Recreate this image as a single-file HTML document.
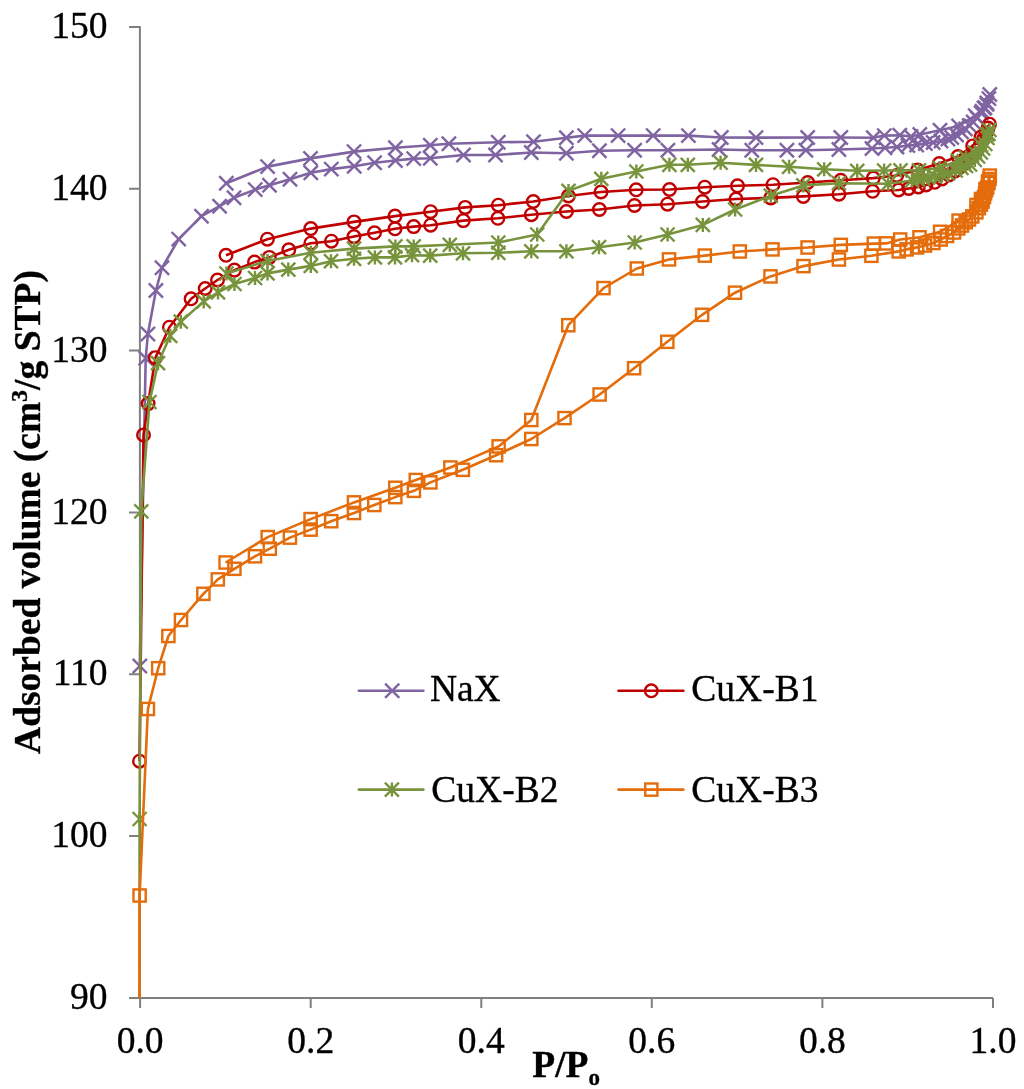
<!DOCTYPE html>
<html><head><meta charset="utf-8"><style>
html,body{margin:0;padding:0;background:#fff;}
svg{display:block;will-change:transform;}
text{font-family:"Liberation Serif",serif;fill:#000;stroke:#000;stroke-width:0.35px;}
</style></head><body>
<svg width="1024" height="1089" viewBox="0 0 1024 1089">
<defs><clipPath id="pa"><rect x="0" y="0" width="1024" height="997.9"/></clipPath></defs>
<rect width="1024" height="1089" fill="#fff"/>

<path d="M139.9,25.9L139.9,997.9M129.0,997.9L993.0,997.9M129,26.9L139.9,26.9M129,188.7L139.9,188.7M129,350.6L139.9,350.6M129,512.4L139.9,512.4M129,674.2L139.9,674.2M129,836.1L139.9,836.1M129,997.9L139.9,997.9M140.1,997.9L140.1,1008M310.7,997.9L310.7,1008M481.3,997.9L481.3,1008M651.8,997.9L651.8,1008M822.4,997.9L822.4,1008M993.0,997.9L993.0,1008" stroke="#808080" stroke-width="2" fill="none"/>
<text x="107.5" y="38.1" font-size="37.5" text-anchor="end">150</text>
<text x="107.5" y="199.9" font-size="37.5" text-anchor="end">140</text>
<text x="107.5" y="361.8" font-size="37.5" text-anchor="end">130</text>
<text x="107.5" y="523.6" font-size="37.5" text-anchor="end">120</text>
<text x="107.5" y="685.4" font-size="37.5" text-anchor="end">110</text>
<text x="107.5" y="847.3" font-size="37.5" text-anchor="end">100</text>
<text x="107.5" y="1009.1" font-size="37.5" text-anchor="end">90</text>
<text x="140.1" y="1053" font-size="37.5" text-anchor="middle">0.0</text>
<text x="310.7" y="1053" font-size="37.5" text-anchor="middle">0.2</text>
<text x="481.3" y="1053" font-size="37.5" text-anchor="middle">0.4</text>
<text x="651.8" y="1053" font-size="37.5" text-anchor="middle">0.6</text>
<text x="822.4" y="1053" font-size="37.5" text-anchor="middle">0.8</text>
<text x="993.0" y="1053" font-size="37.5" text-anchor="middle">1.0</text>
<text x="600" y="1077" font-size="37.5" font-weight="bold" text-anchor="end">P/P<tspan font-size="23" dy="8">o</tspan></text>
<text transform="translate(40,512) rotate(-90)" font-size="37.5" font-weight="bold" text-anchor="middle">Adsorbed volume (cm<tspan font-size="24" dy="-13">3</tspan><tspan dy="13">/g STP)</tspan></text>
<path d="M139.8,666.0L145.7,358.3L147.9,334.0L155.9,290.5L162.0,267.8L178.7,239.1L201.5,216.2L219.6,206.2L234.0,197.8L255.2,189.6L269.5,185.2L290.0,179.3L310.8,172.7L331.3,169.1L354.2,166.2L374.6,162.7L395.4,160.5L413.7,158.6L430.3,158.3L463.5,155.0L495.5,155.0L531.3,152.5L566.4,153.2L599.4,150.7L634.6,150.3L667.9,150.3L719.1,149.5L751.8,150.3L786.9,150.3L805.9,150.3L838.9,149.5L872.0,148.5L885.0,147.8L897.0,147.0L907.8,145.6L916.6,145.0L925.4,143.5L933.2,142.5L941.0,141.0L947.9,139.0L951.8,137.5L956.6,135.0L961.5,132.0L965.4,129.0L969.3,125.5L973.2,122.0L977.1,118.0L981.1,113.0L984.0,108.0L986.9,103.0L988.9,98.6L989.8,94.5L987.0,104.4L985.0,107.8L982.0,111.2L975.2,115.6L958.6,125.9L940.0,130.3L919.8,134.5L911.0,136.5L899.8,135.3L884.3,135.6L873.3,137.8L840.8,137.5L807.7,137.5L756.0,137.6L721.3,137.5L688.4,135.6L653.2,135.6L618.1,135.6L584.7,135.6L566.4,137.8L533.5,141.8L498.3,142.2L448.9,143.7L430.3,145.2L395.4,147.8L354.0,151.6L310.5,158.4L267.6,166.6L226.3,183.2" stroke="#8064A2" stroke-width="2.60" fill="none" stroke-linejoin="round" clip-path="url(#pa)"/>
<g stroke="#8064A2" stroke-width="2.40" fill="none"><path d="M132.7,658.9L146.9,673.1M132.7,673.1L146.9,658.9"/><path d="M138.6,351.2L152.8,365.4M138.6,365.4L152.8,351.2"/><path d="M140.8,326.9L155.0,341.1M140.8,341.1L155.0,326.9"/><path d="M148.8,283.4L163.0,297.6M148.8,297.6L163.0,283.4"/><path d="M154.9,260.7L169.1,274.9M154.9,274.9L169.1,260.7"/><path d="M171.6,232.0L185.8,246.2M171.6,246.2L185.8,232.0"/><path d="M194.4,209.1L208.6,223.3M194.4,223.3L208.6,209.1"/><path d="M212.5,199.1L226.7,213.3M212.5,213.3L226.7,199.1"/><path d="M226.9,190.7L241.1,204.9M226.9,204.9L241.1,190.7"/><path d="M248.1,182.5L262.3,196.7M248.1,196.7L262.3,182.5"/><path d="M262.4,178.1L276.6,192.3M262.4,192.3L276.6,178.1"/><path d="M282.9,172.2L297.1,186.4M282.9,186.4L297.1,172.2"/><path d="M303.7,165.6L317.9,179.8M303.7,179.8L317.9,165.6"/><path d="M324.2,162.0L338.4,176.2M324.2,176.2L338.4,162.0"/><path d="M347.1,159.1L361.3,173.3M347.1,173.3L361.3,159.1"/><path d="M367.5,155.6L381.7,169.8M367.5,169.8L381.7,155.6"/><path d="M388.3,153.4L402.5,167.6M388.3,167.6L402.5,153.4"/><path d="M406.6,151.5L420.8,165.7M406.6,165.7L420.8,151.5"/><path d="M423.2,151.2L437.4,165.4M423.2,165.4L437.4,151.2"/><path d="M456.4,147.9L470.6,162.1M456.4,162.1L470.6,147.9"/><path d="M488.4,147.9L502.6,162.1M488.4,162.1L502.6,147.9"/><path d="M524.2,145.4L538.4,159.6M524.2,159.6L538.4,145.4"/><path d="M559.3,146.1L573.5,160.3M559.3,160.3L573.5,146.1"/><path d="M592.3,143.6L606.5,157.8M592.3,157.8L606.5,143.6"/><path d="M627.5,143.2L641.7,157.4M627.5,157.4L641.7,143.2"/><path d="M660.8,143.2L675.0,157.4M660.8,157.4L675.0,143.2"/><path d="M712.0,142.4L726.2,156.6M712.0,156.6L726.2,142.4"/><path d="M744.7,143.2L758.9,157.4M744.7,157.4L758.9,143.2"/><path d="M779.8,143.2L794.0,157.4M779.8,157.4L794.0,143.2"/><path d="M798.8,143.2L813.0,157.4M798.8,157.4L813.0,143.2"/><path d="M831.8,142.4L846.0,156.6M831.8,156.6L846.0,142.4"/><path d="M864.9,141.4L879.1,155.6M864.9,155.6L879.1,141.4"/><path d="M877.9,140.7L892.1,154.9M877.9,154.9L892.1,140.7"/><path d="M889.9,139.9L904.1,154.1M889.9,154.1L904.1,139.9"/><path d="M900.7,138.5L914.9,152.7M900.7,152.7L914.9,138.5"/><path d="M909.5,137.9L923.7,152.1M909.5,152.1L923.7,137.9"/><path d="M918.3,136.4L932.5,150.6M918.3,150.6L932.5,136.4"/><path d="M926.1,135.4L940.3,149.6M926.1,149.6L940.3,135.4"/><path d="M933.9,133.9L948.1,148.1M933.9,148.1L948.1,133.9"/><path d="M940.8,131.9L955.0,146.1M940.8,146.1L955.0,131.9"/><path d="M944.7,130.4L958.9,144.6M944.7,144.6L958.9,130.4"/><path d="M949.5,127.9L963.7,142.1M949.5,142.1L963.7,127.9"/><path d="M954.4,124.9L968.6,139.1M954.4,139.1L968.6,124.9"/><path d="M958.3,121.9L972.5,136.1M958.3,136.1L972.5,121.9"/><path d="M962.2,118.4L976.4,132.6M962.2,132.6L976.4,118.4"/><path d="M966.1,114.9L980.3,129.1M966.1,129.1L980.3,114.9"/><path d="M970.0,110.9L984.2,125.1M970.0,125.1L984.2,110.9"/><path d="M974.0,105.9L988.2,120.1M974.0,120.1L988.2,105.9"/><path d="M976.9,100.9L991.1,115.1M976.9,115.1L991.1,100.9"/><path d="M979.8,95.9L994.0,110.1M979.8,110.1L994.0,95.9"/><path d="M981.8,91.5L996.0,105.7M981.8,105.7L996.0,91.5"/><path d="M982.7,87.4L996.9,101.6M982.7,101.6L996.9,87.4"/><path d="M979.9,97.3L994.1,111.5M979.9,111.5L994.1,97.3"/><path d="M977.9,100.7L992.1,114.9M977.9,114.9L992.1,100.7"/><path d="M974.9,104.1L989.1,118.3M974.9,118.3L989.1,104.1"/><path d="M968.1,108.5L982.3,122.7M968.1,122.7L982.3,108.5"/><path d="M951.5,118.8L965.7,133.0M951.5,133.0L965.7,118.8"/><path d="M932.9,123.2L947.1,137.4M932.9,137.4L947.1,123.2"/><path d="M912.7,127.4L926.9,141.6M912.7,141.6L926.9,127.4"/><path d="M903.9,129.4L918.1,143.6M903.9,143.6L918.1,129.4"/><path d="M892.7,128.2L906.9,142.4M892.7,142.4L906.9,128.2"/><path d="M877.2,128.5L891.4,142.7M877.2,142.7L891.4,128.5"/><path d="M866.2,130.7L880.4,144.9M866.2,144.9L880.4,130.7"/><path d="M833.7,130.4L847.9,144.6M833.7,144.6L847.9,130.4"/><path d="M800.6,130.4L814.8,144.6M800.6,144.6L814.8,130.4"/><path d="M748.9,130.5L763.1,144.7M748.9,144.7L763.1,130.5"/><path d="M714.2,130.4L728.4,144.6M714.2,144.6L728.4,130.4"/><path d="M681.3,128.5L695.5,142.7M681.3,142.7L695.5,128.5"/><path d="M646.1,128.5L660.3,142.7M646.1,142.7L660.3,128.5"/><path d="M611.0,128.5L625.2,142.7M611.0,142.7L625.2,128.5"/><path d="M577.6,128.5L591.8,142.7M577.6,142.7L591.8,128.5"/><path d="M559.3,130.7L573.5,144.9M559.3,144.9L573.5,130.7"/><path d="M526.4,134.7L540.6,148.9M526.4,148.9L540.6,134.7"/><path d="M491.2,135.1L505.4,149.3M491.2,149.3L505.4,135.1"/><path d="M441.8,136.6L456.0,150.8M441.8,150.8L456.0,136.6"/><path d="M423.2,138.1L437.4,152.3M423.2,152.3L437.4,138.1"/><path d="M388.3,140.7L402.5,154.9M388.3,154.9L402.5,140.7"/><path d="M346.9,144.5L361.1,158.7M346.9,158.7L361.1,144.5"/><path d="M303.4,151.3L317.6,165.5M303.4,165.5L317.6,151.3"/><path d="M260.5,159.5L274.7,173.7M260.5,173.7L274.7,159.5"/><path d="M219.2,176.1L233.4,190.3M219.2,190.3L233.4,176.1"/></g>
<path d="M139.5,761.2L143.5,435.0L148.1,403.6L155.4,357.7L169.4,327.2L191.1,298.8L205.2,288.5L217.5,280.0L234.4,270.1L254.5,262.1L269.3,257.4L288.8,249.8L310.8,243.2L331.4,241.2L354.0,236.6L374.5,232.8L395.0,228.8L413.7,226.6L430.6,225.2L463.3,220.6L497.9,218.3L531.3,214.7L566.4,211.5L599.4,209.5L634.5,205.5L667.5,204.2L702.5,201.5L736.0,199.0L770.8,197.9L803.3,196.4L838.9,194.2L872.6,191.3L898.5,190.0L908.7,188.5L918.3,187.0L926.0,185.0L934.7,182.3L942.0,179.0L949.0,175.0L955.0,171.0L960.0,167.0L965.0,163.0L969.5,158.5L973.5,153.5L977.0,150.0L980.5,144.5L983.5,139.0L986.0,133.0L988.0,128.0L989.5,124.2L981.0,137.0L972.7,145.9L958.0,156.5L939.3,163.5L917.6,170.0L896.7,175.5L873.3,178.1L840.8,180.3L807.7,182.5L773.0,184.7L737.5,185.8L704.8,187.2L669.5,189.5L636.2,189.8L601.0,192.0L568.4,196.0L533.3,201.5L498.3,205.2L465.2,207.4L430.6,211.7L395.0,216.1L354.0,221.9L310.8,228.6L267.4,239.2L226.0,255.3" stroke="#C00000" stroke-width="2.60" fill="none" stroke-linejoin="round" clip-path="url(#pa)"/>
<g stroke="#C00000" stroke-width="2.40" fill="none"><circle cx="139.5" cy="761.2" r="6.3"/><circle cx="143.5" cy="435.0" r="6.3"/><circle cx="148.1" cy="403.6" r="6.3"/><circle cx="155.4" cy="357.7" r="6.3"/><circle cx="169.4" cy="327.2" r="6.3"/><circle cx="191.1" cy="298.8" r="6.3"/><circle cx="205.2" cy="288.5" r="6.3"/><circle cx="217.5" cy="280.0" r="6.3"/><circle cx="234.4" cy="270.1" r="6.3"/><circle cx="254.5" cy="262.1" r="6.3"/><circle cx="269.3" cy="257.4" r="6.3"/><circle cx="288.8" cy="249.8" r="6.3"/><circle cx="310.8" cy="243.2" r="6.3"/><circle cx="331.4" cy="241.2" r="6.3"/><circle cx="354.0" cy="236.6" r="6.3"/><circle cx="374.5" cy="232.8" r="6.3"/><circle cx="395.0" cy="228.8" r="6.3"/><circle cx="413.7" cy="226.6" r="6.3"/><circle cx="430.6" cy="225.2" r="6.3"/><circle cx="463.3" cy="220.6" r="6.3"/><circle cx="497.9" cy="218.3" r="6.3"/><circle cx="531.3" cy="214.7" r="6.3"/><circle cx="566.4" cy="211.5" r="6.3"/><circle cx="599.4" cy="209.5" r="6.3"/><circle cx="634.5" cy="205.5" r="6.3"/><circle cx="667.5" cy="204.2" r="6.3"/><circle cx="702.5" cy="201.5" r="6.3"/><circle cx="736.0" cy="199.0" r="6.3"/><circle cx="770.8" cy="197.9" r="6.3"/><circle cx="803.3" cy="196.4" r="6.3"/><circle cx="838.9" cy="194.2" r="6.3"/><circle cx="872.6" cy="191.3" r="6.3"/><circle cx="898.5" cy="190.0" r="6.3"/><circle cx="908.7" cy="188.5" r="6.3"/><circle cx="918.3" cy="187.0" r="6.3"/><circle cx="926.0" cy="185.0" r="6.3"/><circle cx="934.7" cy="182.3" r="6.3"/><circle cx="942.0" cy="179.0" r="6.3"/><circle cx="949.0" cy="175.0" r="6.3"/><circle cx="955.0" cy="171.0" r="6.3"/><circle cx="960.0" cy="167.0" r="6.3"/><circle cx="965.0" cy="163.0" r="6.3"/><circle cx="969.5" cy="158.5" r="6.3"/><circle cx="973.5" cy="153.5" r="6.3"/><circle cx="977.0" cy="150.0" r="6.3"/><circle cx="980.5" cy="144.5" r="6.3"/><circle cx="983.5" cy="139.0" r="6.3"/><circle cx="986.0" cy="133.0" r="6.3"/><circle cx="988.0" cy="128.0" r="6.3"/><circle cx="989.5" cy="124.2" r="6.3"/><circle cx="981.0" cy="137.0" r="6.3"/><circle cx="972.7" cy="145.9" r="6.3"/><circle cx="958.0" cy="156.5" r="6.3"/><circle cx="939.3" cy="163.5" r="6.3"/><circle cx="917.6" cy="170.0" r="6.3"/><circle cx="896.7" cy="175.5" r="6.3"/><circle cx="873.3" cy="178.1" r="6.3"/><circle cx="840.8" cy="180.3" r="6.3"/><circle cx="807.7" cy="182.5" r="6.3"/><circle cx="773.0" cy="184.7" r="6.3"/><circle cx="737.5" cy="185.8" r="6.3"/><circle cx="704.8" cy="187.2" r="6.3"/><circle cx="669.5" cy="189.5" r="6.3"/><circle cx="636.2" cy="189.8" r="6.3"/><circle cx="601.0" cy="192.0" r="6.3"/><circle cx="568.4" cy="196.0" r="6.3"/><circle cx="533.3" cy="201.5" r="6.3"/><circle cx="498.3" cy="205.2" r="6.3"/><circle cx="465.2" cy="207.4" r="6.3"/><circle cx="430.6" cy="211.7" r="6.3"/><circle cx="395.0" cy="216.1" r="6.3"/><circle cx="354.0" cy="221.9" r="6.3"/><circle cx="310.8" cy="228.6" r="6.3"/><circle cx="267.4" cy="239.2" r="6.3"/><circle cx="226.0" cy="255.3" r="6.3"/></g>
<path d="M139.6,1040.0L139.6,819.0L141.3,511.3L149.5,402.0L158.0,363.2L170.2,335.8L180.8,321.7L203.7,301.4L218.0,292.4L234.5,284.0L255.0,278.0L267.5,273.4L288.3,269.6L310.8,265.9L331.0,261.2L354.0,258.8L374.9,257.4L395.0,257.4L412.0,255.2L430.2,255.6L463.0,253.3L498.3,252.8L531.3,251.3L566.4,251.3L599.0,247.2L634.7,242.5L667.6,234.5L702.8,224.9L735.1,209.5L770.8,195.7L803.3,185.4L838.9,183.2L888.2,183.7L912.0,180.5L918.0,179.5L923.0,178.5L928.0,177.5L935.0,176.5L942.0,175.0L947.9,173.5L955.7,170.5L961.5,168.0L966.0,166.0L970.0,164.5L974.8,160.0L978.1,156.5L980.9,152.5L983.1,148.5L985.3,144.0L987.5,138.0L988.5,134.0L989.5,130.0L987.0,134.3L981.0,145.0L974.9,152.5L966.0,157.5L957.8,160.7L939.5,168.0L919.0,170.4L900.5,170.4L884.1,170.5L857.2,170.8L824.2,169.3L789.1,166.8L756.0,164.9L720.6,162.7L687.8,164.8L669.4,164.8L636.3,171.5L601.3,178.8L568.5,190.9L537.2,234.5L498.3,242.5L449.8,244.8L413.7,246.4L395.4,246.4L354.0,248.6L310.8,252.7L267.5,261.0L226.4,273.5" stroke="#77933C" stroke-width="2.60" fill="none" stroke-linejoin="round" clip-path="url(#pa)"/>
<g stroke="#77933C" stroke-width="2.40" fill="none"><path d="M132.6,812.0L146.6,826.0M132.6,826.0L146.6,812.0M139.6,812.0L139.6,826.0"/><path d="M134.3,504.3L148.3,518.3M134.3,518.3L148.3,504.3M141.3,504.3L141.3,518.3"/><path d="M142.5,395.0L156.5,409.0M142.5,409.0L156.5,395.0M149.5,395.0L149.5,409.0"/><path d="M151.0,356.2L165.0,370.2M151.0,370.2L165.0,356.2M158.0,356.2L158.0,370.2"/><path d="M163.2,328.8L177.2,342.8M163.2,342.8L177.2,328.8M170.2,328.8L170.2,342.8"/><path d="M173.8,314.7L187.8,328.7M173.8,328.7L187.8,314.7M180.8,314.7L180.8,328.7"/><path d="M196.7,294.4L210.7,308.4M196.7,308.4L210.7,294.4M203.7,294.4L203.7,308.4"/><path d="M211.0,285.4L225.0,299.4M211.0,299.4L225.0,285.4M218.0,285.4L218.0,299.4"/><path d="M227.5,277.0L241.5,291.0M227.5,291.0L241.5,277.0M234.5,277.0L234.5,291.0"/><path d="M248.0,271.0L262.0,285.0M248.0,285.0L262.0,271.0M255.0,271.0L255.0,285.0"/><path d="M260.5,266.4L274.5,280.4M260.5,280.4L274.5,266.4M267.5,266.4L267.5,280.4"/><path d="M281.3,262.6L295.3,276.6M281.3,276.6L295.3,262.6M288.3,262.6L288.3,276.6"/><path d="M303.8,258.9L317.8,272.9M303.8,272.9L317.8,258.9M310.8,258.9L310.8,272.9"/><path d="M324.0,254.2L338.0,268.2M324.0,268.2L338.0,254.2M331.0,254.2L331.0,268.2"/><path d="M347.0,251.8L361.0,265.8M347.0,265.8L361.0,251.8M354.0,251.8L354.0,265.8"/><path d="M367.9,250.4L381.9,264.4M367.9,264.4L381.9,250.4M374.9,250.4L374.9,264.4"/><path d="M388.0,250.4L402.0,264.4M388.0,264.4L402.0,250.4M395.0,250.4L395.0,264.4"/><path d="M405.0,248.2L419.0,262.2M405.0,262.2L419.0,248.2M412.0,248.2L412.0,262.2"/><path d="M423.2,248.6L437.2,262.6M423.2,262.6L437.2,248.6M430.2,248.6L430.2,262.6"/><path d="M456.0,246.3L470.0,260.3M456.0,260.3L470.0,246.3M463.0,246.3L463.0,260.3"/><path d="M491.3,245.8L505.3,259.8M491.3,259.8L505.3,245.8M498.3,245.8L498.3,259.8"/><path d="M524.3,244.3L538.3,258.3M524.3,258.3L538.3,244.3M531.3,244.3L531.3,258.3"/><path d="M559.4,244.3L573.4,258.3M559.4,258.3L573.4,244.3M566.4,244.3L566.4,258.3"/><path d="M592.0,240.2L606.0,254.2M592.0,254.2L606.0,240.2M599.0,240.2L599.0,254.2"/><path d="M627.7,235.5L641.7,249.5M627.7,249.5L641.7,235.5M634.7,235.5L634.7,249.5"/><path d="M660.6,227.5L674.6,241.5M660.6,241.5L674.6,227.5M667.6,227.5L667.6,241.5"/><path d="M695.8,217.9L709.8,231.9M695.8,231.9L709.8,217.9M702.8,217.9L702.8,231.9"/><path d="M728.1,202.5L742.1,216.5M728.1,216.5L742.1,202.5M735.1,202.5L735.1,216.5"/><path d="M763.8,188.7L777.8,202.7M763.8,202.7L777.8,188.7M770.8,188.7L770.8,202.7"/><path d="M796.3,178.4L810.3,192.4M796.3,192.4L810.3,178.4M803.3,178.4L803.3,192.4"/><path d="M831.9,176.2L845.9,190.2M831.9,190.2L845.9,176.2M838.9,176.2L838.9,190.2"/><path d="M881.2,176.7L895.2,190.7M881.2,190.7L895.2,176.7M888.2,176.7L888.2,190.7"/><path d="M905.0,173.5L919.0,187.5M905.0,187.5L919.0,173.5M912.0,173.5L912.0,187.5"/><path d="M911.0,172.5L925.0,186.5M911.0,186.5L925.0,172.5M918.0,172.5L918.0,186.5"/><path d="M916.0,171.5L930.0,185.5M916.0,185.5L930.0,171.5M923.0,171.5L923.0,185.5"/><path d="M921.0,170.5L935.0,184.5M921.0,184.5L935.0,170.5M928.0,170.5L928.0,184.5"/><path d="M928.0,169.5L942.0,183.5M928.0,183.5L942.0,169.5M935.0,169.5L935.0,183.5"/><path d="M935.0,168.0L949.0,182.0M935.0,182.0L949.0,168.0M942.0,168.0L942.0,182.0"/><path d="M940.9,166.5L954.9,180.5M940.9,180.5L954.9,166.5M947.9,166.5L947.9,180.5"/><path d="M948.7,163.5L962.7,177.5M948.7,177.5L962.7,163.5M955.7,163.5L955.7,177.5"/><path d="M954.5,161.0L968.5,175.0M954.5,175.0L968.5,161.0M961.5,161.0L961.5,175.0"/><path d="M959.0,159.0L973.0,173.0M959.0,173.0L973.0,159.0M966.0,159.0L966.0,173.0"/><path d="M963.0,157.5L977.0,171.5M963.0,171.5L977.0,157.5M970.0,157.5L970.0,171.5"/><path d="M967.8,153.0L981.8,167.0M967.8,167.0L981.8,153.0M974.8,153.0L974.8,167.0"/><path d="M971.1,149.5L985.1,163.5M971.1,163.5L985.1,149.5M978.1,149.5L978.1,163.5"/><path d="M973.9,145.5L987.9,159.5M973.9,159.5L987.9,145.5M980.9,145.5L980.9,159.5"/><path d="M976.1,141.5L990.1,155.5M976.1,155.5L990.1,141.5M983.1,141.5L983.1,155.5"/><path d="M978.3,137.0L992.3,151.0M978.3,151.0L992.3,137.0M985.3,137.0L985.3,151.0"/><path d="M980.5,131.0L994.5,145.0M980.5,145.0L994.5,131.0M987.5,131.0L987.5,145.0"/><path d="M981.5,127.0L995.5,141.0M981.5,141.0L995.5,127.0M988.5,127.0L988.5,141.0"/><path d="M982.5,123.0L996.5,137.0M982.5,137.0L996.5,123.0M989.5,123.0L989.5,137.0"/><path d="M980.0,127.3L994.0,141.3M980.0,141.3L994.0,127.3M987.0,127.3L987.0,141.3"/><path d="M974.0,138.0L988.0,152.0M974.0,152.0L988.0,138.0M981.0,138.0L981.0,152.0"/><path d="M967.9,145.5L981.9,159.5M967.9,159.5L981.9,145.5M974.9,145.5L974.9,159.5"/><path d="M959.0,150.5L973.0,164.5M959.0,164.5L973.0,150.5M966.0,150.5L966.0,164.5"/><path d="M950.8,153.7L964.8,167.7M950.8,167.7L964.8,153.7M957.8,153.7L957.8,167.7"/><path d="M932.5,161.0L946.5,175.0M932.5,175.0L946.5,161.0M939.5,161.0L939.5,175.0"/><path d="M912.0,163.4L926.0,177.4M912.0,177.4L926.0,163.4M919.0,163.4L919.0,177.4"/><path d="M893.5,163.4L907.5,177.4M893.5,177.4L907.5,163.4M900.5,163.4L900.5,177.4"/><path d="M877.1,163.5L891.1,177.5M877.1,177.5L891.1,163.5M884.1,163.5L884.1,177.5"/><path d="M850.2,163.8L864.2,177.8M850.2,177.8L864.2,163.8M857.2,163.8L857.2,177.8"/><path d="M817.2,162.3L831.2,176.3M817.2,176.3L831.2,162.3M824.2,162.3L824.2,176.3"/><path d="M782.1,159.8L796.1,173.8M782.1,173.8L796.1,159.8M789.1,159.8L789.1,173.8"/><path d="M749.0,157.9L763.0,171.9M749.0,171.9L763.0,157.9M756.0,157.9L756.0,171.9"/><path d="M713.6,155.7L727.6,169.7M713.6,169.7L727.6,155.7M720.6,155.7L720.6,169.7"/><path d="M680.8,157.8L694.8,171.8M680.8,171.8L694.8,157.8M687.8,157.8L687.8,171.8"/><path d="M662.4,157.8L676.4,171.8M662.4,171.8L676.4,157.8M669.4,157.8L669.4,171.8"/><path d="M629.3,164.5L643.3,178.5M629.3,178.5L643.3,164.5M636.3,164.5L636.3,178.5"/><path d="M594.3,171.8L608.3,185.8M594.3,185.8L608.3,171.8M601.3,171.8L601.3,185.8"/><path d="M561.5,183.9L575.5,197.9M561.5,197.9L575.5,183.9M568.5,183.9L568.5,197.9"/><path d="M530.2,227.5L544.2,241.5M530.2,241.5L544.2,227.5M537.2,227.5L537.2,241.5"/><path d="M491.3,235.5L505.3,249.5M491.3,249.5L505.3,235.5M498.3,235.5L498.3,249.5"/><path d="M442.8,237.8L456.8,251.8M442.8,251.8L456.8,237.8M449.8,237.8L449.8,251.8"/><path d="M406.7,239.4L420.7,253.4M406.7,253.4L420.7,239.4M413.7,239.4L413.7,253.4"/><path d="M388.4,239.4L402.4,253.4M388.4,253.4L402.4,239.4M395.4,239.4L395.4,253.4"/><path d="M347.0,241.6L361.0,255.6M347.0,255.6L361.0,241.6M354.0,241.6L354.0,255.6"/><path d="M303.8,245.7L317.8,259.7M303.8,259.7L317.8,245.7M310.8,245.7L310.8,259.7"/><path d="M260.5,254.0L274.5,268.0M260.5,268.0L274.5,254.0M267.5,254.0L267.5,268.0"/><path d="M219.4,266.5L233.4,280.5M219.4,280.5L233.4,266.5M226.4,266.5L226.4,280.5"/></g>
<path d="M139.5,1040.0L139.6,895.5L147.9,709.0L158.2,668.2L168.4,636.0L181.0,620.0L203.4,593.8L217.8,579.4L234.4,568.8L255.0,556.3L269.8,548.7L289.9,537.6L310.6,529.6L331.2,521.2L354.0,513.0L374.3,505.0L395.3,497.1L413.9,490.8L430.4,482.4L462.9,469.8L496.1,455.2L531.3,439.0L564.5,418.1L599.6,394.5L634.1,368.2L667.3,341.8L702.1,314.8L735.0,292.7L770.5,276.4L803.5,266.1L838.9,259.5L871.4,255.8L898.7,251.4L906.6,249.4L917.1,247.4L925.0,245.5L933.4,243.0L940.7,239.5L947.0,236.0L954.0,232.5L958.3,228.4L962.0,225.5L965.7,222.2L969.0,219.5L972.3,216.4L976.4,212.3L978.9,208.1L981.0,204.5L982.6,201.5L984.0,197.0L985.1,193.3L986.2,190.0L987.2,187.5L988.5,183.0L989.5,179.0L989.8,175.6L988.0,181.5L985.5,189.0L981.0,199.0L976.5,205.0L958.6,220.6L940.1,231.8L919.5,237.3L900.2,239.5L886.1,243.4L873.8,243.6L840.8,244.9L807.6,247.5L772.5,249.4L739.8,251.5L704.8,255.6L669.0,259.4L636.8,268.5L603.5,288.1L568.3,325.2L531.3,420.0L498.6,446.4L450.4,467.5L415.8,480.0L395.3,487.8L354.0,502.4L310.6,519.1L267.7,537.1L225.6,562.5" stroke="#E46C0A" stroke-width="2.60" fill="none" stroke-linejoin="round" clip-path="url(#pa)"/>
<g stroke="#E46C0A" stroke-width="2.40" fill="none"><rect x="133.5" y="889.4" width="12.2" height="12.2"/><rect x="141.8" y="702.9" width="12.2" height="12.2"/><rect x="152.1" y="662.1" width="12.2" height="12.2"/><rect x="162.3" y="629.9" width="12.2" height="12.2"/><rect x="174.9" y="613.9" width="12.2" height="12.2"/><rect x="197.3" y="587.7" width="12.2" height="12.2"/><rect x="211.7" y="573.3" width="12.2" height="12.2"/><rect x="228.3" y="562.7" width="12.2" height="12.2"/><rect x="248.9" y="550.2" width="12.2" height="12.2"/><rect x="263.7" y="542.6" width="12.2" height="12.2"/><rect x="283.8" y="531.5" width="12.2" height="12.2"/><rect x="304.5" y="523.5" width="12.2" height="12.2"/><rect x="325.1" y="515.1" width="12.2" height="12.2"/><rect x="347.9" y="506.9" width="12.2" height="12.2"/><rect x="368.2" y="498.9" width="12.2" height="12.2"/><rect x="389.2" y="491.0" width="12.2" height="12.2"/><rect x="407.8" y="484.7" width="12.2" height="12.2"/><rect x="424.3" y="476.3" width="12.2" height="12.2"/><rect x="456.8" y="463.7" width="12.2" height="12.2"/><rect x="490.0" y="449.1" width="12.2" height="12.2"/><rect x="525.2" y="432.9" width="12.2" height="12.2"/><rect x="558.4" y="412.0" width="12.2" height="12.2"/><rect x="593.5" y="388.4" width="12.2" height="12.2"/><rect x="628.0" y="362.1" width="12.2" height="12.2"/><rect x="661.2" y="335.7" width="12.2" height="12.2"/><rect x="696.0" y="308.7" width="12.2" height="12.2"/><rect x="728.9" y="286.6" width="12.2" height="12.2"/><rect x="764.4" y="270.3" width="12.2" height="12.2"/><rect x="797.4" y="260.0" width="12.2" height="12.2"/><rect x="832.8" y="253.4" width="12.2" height="12.2"/><rect x="865.3" y="249.7" width="12.2" height="12.2"/><rect x="892.6" y="245.3" width="12.2" height="12.2"/><rect x="900.5" y="243.3" width="12.2" height="12.2"/><rect x="911.0" y="241.3" width="12.2" height="12.2"/><rect x="918.9" y="239.4" width="12.2" height="12.2"/><rect x="927.3" y="236.9" width="12.2" height="12.2"/><rect x="934.6" y="233.4" width="12.2" height="12.2"/><rect x="940.9" y="229.9" width="12.2" height="12.2"/><rect x="947.9" y="226.4" width="12.2" height="12.2"/><rect x="952.2" y="222.3" width="12.2" height="12.2"/><rect x="955.9" y="219.4" width="12.2" height="12.2"/><rect x="959.6" y="216.1" width="12.2" height="12.2"/><rect x="962.9" y="213.4" width="12.2" height="12.2"/><rect x="966.2" y="210.3" width="12.2" height="12.2"/><rect x="970.3" y="206.2" width="12.2" height="12.2"/><rect x="972.8" y="202.0" width="12.2" height="12.2"/><rect x="974.9" y="198.4" width="12.2" height="12.2"/><rect x="976.5" y="195.4" width="12.2" height="12.2"/><rect x="977.9" y="190.9" width="12.2" height="12.2"/><rect x="979.0" y="187.2" width="12.2" height="12.2"/><rect x="980.1" y="183.9" width="12.2" height="12.2"/><rect x="981.1" y="181.4" width="12.2" height="12.2"/><rect x="982.4" y="176.9" width="12.2" height="12.2"/><rect x="983.4" y="172.9" width="12.2" height="12.2"/><rect x="983.7" y="169.5" width="12.2" height="12.2"/><rect x="981.9" y="175.4" width="12.2" height="12.2"/><rect x="979.4" y="182.9" width="12.2" height="12.2"/><rect x="974.9" y="192.9" width="12.2" height="12.2"/><rect x="970.4" y="198.9" width="12.2" height="12.2"/><rect x="952.5" y="214.5" width="12.2" height="12.2"/><rect x="934.0" y="225.7" width="12.2" height="12.2"/><rect x="913.4" y="231.2" width="12.2" height="12.2"/><rect x="894.1" y="233.4" width="12.2" height="12.2"/><rect x="880.0" y="237.3" width="12.2" height="12.2"/><rect x="867.7" y="237.5" width="12.2" height="12.2"/><rect x="834.7" y="238.8" width="12.2" height="12.2"/><rect x="801.5" y="241.4" width="12.2" height="12.2"/><rect x="766.4" y="243.3" width="12.2" height="12.2"/><rect x="733.7" y="245.4" width="12.2" height="12.2"/><rect x="698.7" y="249.5" width="12.2" height="12.2"/><rect x="662.9" y="253.3" width="12.2" height="12.2"/><rect x="630.7" y="262.4" width="12.2" height="12.2"/><rect x="597.4" y="282.0" width="12.2" height="12.2"/><rect x="562.2" y="319.1" width="12.2" height="12.2"/><rect x="525.2" y="413.9" width="12.2" height="12.2"/><rect x="492.5" y="440.3" width="12.2" height="12.2"/><rect x="444.3" y="461.4" width="12.2" height="12.2"/><rect x="409.7" y="473.9" width="12.2" height="12.2"/><rect x="389.2" y="481.7" width="12.2" height="12.2"/><rect x="347.9" y="496.3" width="12.2" height="12.2"/><rect x="304.5" y="513.0" width="12.2" height="12.2"/><rect x="261.6" y="531.0" width="12.2" height="12.2"/><rect x="219.5" y="556.4" width="12.2" height="12.2"/></g>
<path d="M358.8,690.8L423.4,690.8" stroke="#8064A2" stroke-width="2.60" stroke-linecap="round"/>
<g stroke="#8064A2" stroke-width="2.40" fill="none"><path d="M385.1,683.7L399.3,697.9M385.1,697.9L399.3,683.7"/></g>
<text x="429.9" y="701.2" font-size="37.5">NaX</text>
<path d="M618.5,690.8L683.4,690.8" stroke="#C00000" stroke-width="2.60" stroke-linecap="round"/>
<g stroke="#C00000" stroke-width="2.40" fill="none"><circle cx="651.3" cy="690.8" r="6.3"/></g>
<text x="691.3" y="701.2" font-size="37.5">CuX-B1</text>
<path d="M358.8,789.6L423.4,789.6" stroke="#77933C" stroke-width="2.60" stroke-linecap="round"/>
<g stroke="#77933C" stroke-width="2.40" fill="none"><path d="M384.9,782.6L398.9,796.6M384.9,796.6L398.9,782.6M391.9,782.6L391.9,796.6"/></g>
<text x="431.3" y="801.5" font-size="37.5">CuX-B2</text>
<path d="M618.5,789.6L683.4,789.6" stroke="#E46C0A" stroke-width="2.60" stroke-linecap="round"/>
<g stroke="#E46C0A" stroke-width="2.40" fill="none"><rect x="645.2" y="783.5" width="12.2" height="12.2"/></g>
<text x="691.3" y="801.5" font-size="37.5">CuX-B3</text>
</svg></body></html>
